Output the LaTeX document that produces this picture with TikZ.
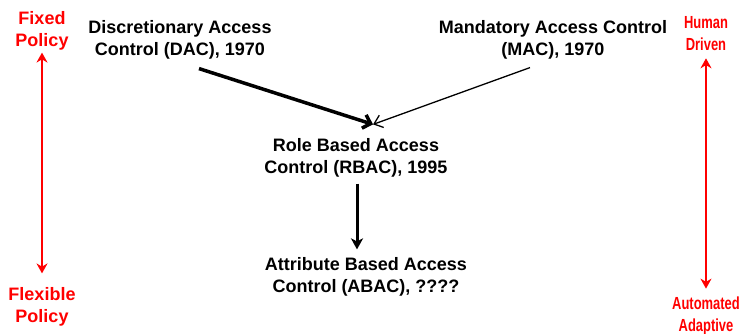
\documentclass[tikz,border=0pt]{standalone}
\usepackage{fontspec}
\setmainfont{Liberation Sans}
\newfontfamily\narrowsans[FakeStretch=0.74]{Liberation Sans}
\usetikzlibrary{arrows.meta, positioning, calc}

\begin{document}
\begin{tikzpicture}[x=1pt, y=-1pt, >=Stealth,
    model/.style={align=center, inner sep=0pt,
      font=\fontsize{18}{22}\selectfont\bfseries},
    leftlabel/.style={align=center, inner sep=0pt, text=red,
      font=\fontsize{18}{22}\selectfont\bfseries},
    rightlabel/.style={align=center, inner sep=0pt, text=red,
      font=\narrowsans\bfseries\fontsize{17.5}{22}\selectfont},
    scalearrow/.style={red, line width=2.6pt,
      {Stealth[length=10pt, width=11pt]}-{Stealth[length=10pt, width=11pt]}}]
  \useasboundingbox (0,0) rectangle (739,334);

  % Access control models
  \node[model] (dac) at (180,40) {Discretionary Access\\Control (DAC), 1970};
  \node[model] (mac) at (553,40) {Mandatory Access Control\\(MAC), 1970};
  \node[model] (rbac) at (356,158) {Role Based Access\\Control (RBAC), 1995};
  \node[model] (abac) at (366,277) {Attribute Based Access\\Control (ABAC), ????};

  % Left scale
  \node[leftlabel] (fixed) at (42,31) {Fixed\\Policy};
  \node[leftlabel] (flexible) at (42,307) {Flexible\\Policy};
  \draw[scalearrow] ([yshift=-2pt]fixed.south) -- ([yshift=14pt]flexible.north);

  % Right scale
  \node[rightlabel] (human) at (706,34) {Human\\Driven};
  \node[rightlabel] (auto) at (706,316) {Automated\\Adaptive};
  \draw[scalearrow] ([yshift=-7pt]human.south) -- ([yshift=8pt]auto.north);

  % Arrows into RBAC, then down to ABAC
  \coordinate (join) at ($(rbac.north)+(17,-14)$);
  \draw[line width=3.5pt, -{Straight Barb[length=7pt, width=14pt]}]
    ([xshift=19pt, yshift=-9pt]dac.south) -- (join);
  \draw[line width=1.3pt, -{Straight Barb[length=8pt, width=13pt]}]
    ([xshift=-23pt, yshift=-8pt]mac.south) -- (join);
  \draw[line width=3pt, -{Stealth[length=11pt, width=12pt, inset=3pt]}]
    ([xshift=1pt, yshift=-6pt]rbac.south) -- ([xshift=1pt, yshift=8pt]rbac.south |- abac.north);
\end{tikzpicture}
\end{document}
